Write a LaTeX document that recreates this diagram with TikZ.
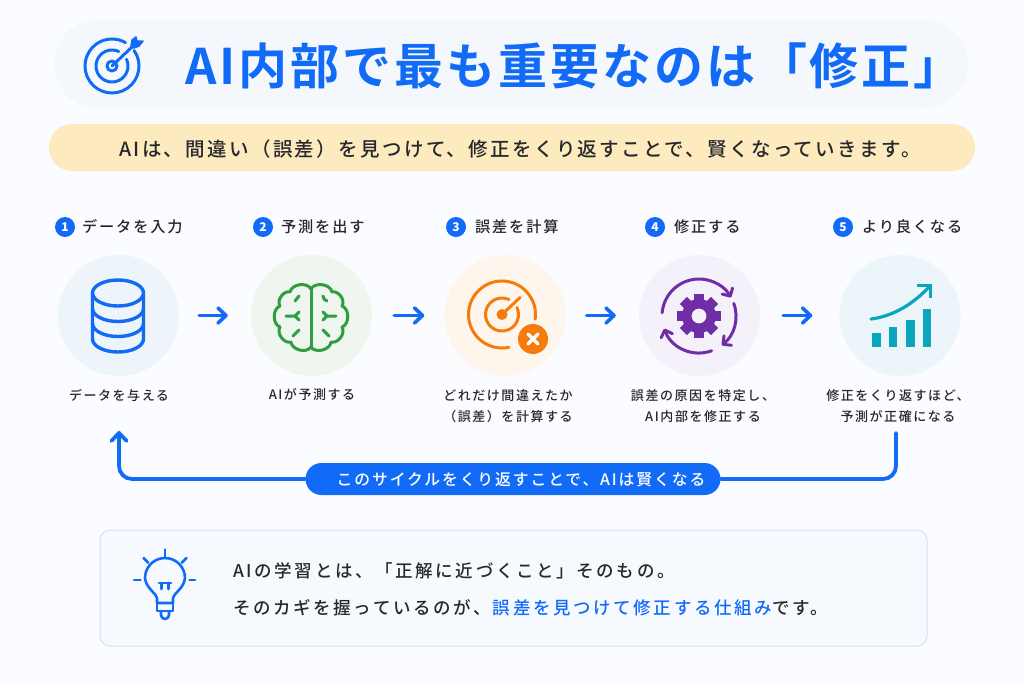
\documentclass[tikz,border=0pt]{standalone}
\usepackage{fontspec}
\usepackage{xcolor}
\usetikzlibrary{arrows.meta}
\setmainfont{Noto Sans CJK JP}
\newfontfamily\titlefont[LetterSpace=6]{Noto Sans CJK JP Bold}
\newfontfamily\jpfont[LetterSpace=12]{Noto Sans CJK JP Medium}
\newfontfamily\notefont[LetterSpace=15]{Noto Sans CJK JP Medium}
\definecolor{pagebg}{HTML}{FBFCFF}
\definecolor{titlebg}{HTML}{F4F8FC}
\definecolor{yellowbg}{HTML}{FDEBBF}
\definecolor{mainblue}{HTML}{126BF6}
\definecolor{inktext}{HTML}{26282C}
\definecolor{boxbg}{HTML}{F6FAFE}
\definecolor{boxline}{HTML}{CFE2FA}
\definecolor{brain}{HTML}{2E9E3E}
\definecolor{errorc}{HTML}{F57C0C}
\definecolor{gearc}{HTML}{6F2DA8}
\definecolor{chartc}{HTML}{0BA5BE}
\definecolor{circone}{HTML}{EEF5FA}
\definecolor{circtwo}{HTML}{EFF6F0}
\definecolor{circthree}{HTML}{FEF6EC}
\definecolor{circfour}{HTML}{F5F1FA}
\definecolor{circfive}{HTML}{ECF5FA}
\tikzset{
  stepcircle/.style={circle, minimum size=121pt, inner sep=0pt},
  stepbadge/.style={circle, fill=mainblue, minimum size=20pt, inner sep=0pt, text=white, font=\fontsize{12}{12}\selectfont\bfseries},
  steptitle/.style={anchor=west, inner sep=0pt, text=inktext, font=\fontsize{15.2}{15.2}\jpfont},
  stepdesc/.style={align=center, inner sep=0pt, text=inktext, font=\fontsize{13}{21}\jpfont},
  flow/.style={line width=3.6pt, mainblue, line cap=round, -{Straight Barb[round,length=8pt,width=15pt]}},
  loopline/.style={line width=3.8pt, mainblue, line cap=round, rounded corners=13pt},
  icon/.style={line cap=round, line join=round}
}
\begin{document}
\begin{tikzpicture}[x=1pt,y=-1pt]
\useasboundingbox (0,0) rectangle (1024,683);
\fill[pagebg] (0,0) rectangle (1024,683);
\draw node(titlebar)[fill=titlebg, rounded corners=44pt, minimum width=914pt, minimum height=88pt, inner sep=0pt] at (511,64) {};
\draw node(leadbar)[fill=yellowbg, rounded corners=23pt, minimum width=926pt, minimum height=47pt, inner sep=0pt] at (512,147.5) {};
\draw node(titletext)[anchor=west, inner sep=0pt, text=mainblue, font=\fontsize{49}{49}\titlefont] at (185,66) {AI内部で最も重要なのは「修正」};
\draw node(leadtext)[inner sep=0pt, text=inktext, font=\fontsize{19.5}{19.5}\jpfont] at (520,149) {AIは、間違い（誤差）を見つけて、修正をくり返すことで、賢くなっていきます。};

\draw node(c1)[stepcircle, fill=circone] at (118.5,315.5) {};
\draw node(c2)[stepcircle, fill=circtwo] at (311.5,315.5) {};
\draw node(c3)[stepcircle, fill=circthree] at (505,315.5) {};
\draw node(c4)[stepcircle, fill=circfour] at (699.5,315.5) {};
\draw node(c5)[stepcircle, fill=circfive] at (900,315.5) {};
\draw[flow, shorten <=20pt, shorten >=23pt] (c1) -- (c2);
\draw[flow, shorten <=22pt, shorten >=20pt] (c2) -- (c3);
\draw[flow, shorten <=21pt, shorten >=23pt] (c3) -- (c4);
\draw[flow, shorten <=23pt, shorten >=27pt] (c4) -- (c5);

\draw node(b1)[stepbadge] at (65,227) {1};
\draw node(t1)[steptitle] at (82,227) {データを入力};
\draw node(b2)[stepbadge] at (263,227) {2};
\draw node(t2)[steptitle] at (281,227) {予測を出す};
\draw node(b3)[stepbadge] at (456,227) {3};
\draw node(t3)[steptitle] at (475,227) {誤差を計算};
\draw node(b4)[stepbadge] at (655,227) {4};
\draw node(t4)[steptitle] at (674,227) {修正する};
\draw node(b5)[stepbadge] at (843,227) {5};
\draw node(t5)[steptitle] at (862,227) {より良くなる};

\draw node(d1)[stepdesc] at (119,395) {データを与える};
\draw node(d2)[stepdesc] at (312,395) {AIが予測する};
\draw node(d3)[stepdesc] at (508,406) {どれだけ間違えたか\\（誤差）を計算する};
\draw node(d4)[stepdesc] at (703,406) {誤差の原因を特定し、\\AI内部を修正する};
\draw node(d5)[stepdesc] at (898,406) {修正をくり返すほど、\\予測が正確になる};

\draw node(cyclepill)[fill=mainblue, rounded corners=16pt, minimum width=415pt, minimum height=32pt, inner sep=0pt] at (513,479) {};
\draw node(cycletext)[inner sep=0pt, text=white, font=\fontsize{15.8}{15.8}\jpfont] at (521,480) {このサイクルをくり返すことで、AIは賢くなる};
\coordinate (loopstart) at (896,433);
\coordinate (loopend) at (119,431);
\draw[loopline] (loopstart) |- (cyclepill.east);
\draw[loopline, -{Straight Barb[round,length=8pt,width=15pt]}] (cyclepill.west) -| (loopend);

\draw node(notebox)[draw=boxline, fill=boxbg, line width=1pt, rounded corners=10pt, minimum width=827pt, minimum height=116pt, inner sep=0pt] at (513.5,588) {};
\draw node(note1)[anchor=west, inner sep=0pt, text=inktext, font=\fontsize{17.5}{17.5}\notefont] at (233,571) {AIの学習とは、「正解に近づくこと」そのもの。};
\draw node(note2)[anchor=west, inner sep=0pt, text=inktext, font=\fontsize{17.5}{17.5}\notefont] at (233,608) {そのカギを握っているのが、\hspace{2pt}\textcolor{mainblue}{誤差を見つけて修正する仕組み}です。};

% title target
\begin{scope}[icon, mainblue, line width=3pt]
\draw (112,66) ++(-35:27) arc (-35:300:27);
\draw (112,66) ++(-25:16) arc (-25:295:16);
\draw (112,66) circle (5);
\draw (112,66) -- (133,46);
\draw[fill=mainblue, line width=1.5pt] (131,46) -- (132,40) -- (136,37) -- (137,41) -- (143,41) -- (139,46) -- (134,48) -- cycle;
\end{scope}

% database
\begin{scope}[icon, mainblue, line width=3.4pt]
\draw (118,293) ellipse (25.5 and 13);
\draw (92.5,293) -- (92.5,339) arc (180:0:25.5 and 13) -- (143.5,293);
\draw (92.5,308.5) arc (180:0:25.5 and 13);
\draw (92.5,323.5) arc (180:0:25.5 and 13);
\end{scope}

% brain
\begin{scope}[shift={(311,316)}, icon, brain, line width=3pt]
\draw (0,-27) -- (0,31);
\draw (0,-27) to[bend left=70] (21,-24) to[bend left=70] (31,-10) to[bend left=70] (31,11) to[bend left=70] (20,26) to[bend left=70] (0,31);
\draw (0,-27) to[bend right=70] (-21,-24) to[bend right=70] (-31,-10) to[bend right=70] (-31,11) to[bend right=70] (-20,26) to[bend right=70] (0,31);
\draw (25,0) -- (16,0) -- (12,-4) (16,0) -- (12,4);
\draw (-25,0) -- (-16,0) -- (-12,-4) (-16,0) -- (-12,4);
\draw (12,-20) -- (13,-17) -- (16,-15);
\draw (-12,-20) -- (-16,-15);
\draw (12,14) -- (18,20);
\draw (-12,14) -- (-18,20);
\end{scope}

% error target
\begin{scope}[shift={(502,314.5)}, icon, errorc, line width=3pt]
\draw (0,0) ++(8:33.5) arc (8:-282:33.5);
\fill (0,0) circle (5.5);
\draw (0,0) ++(-25:16.5) arc (-25:295:16.5);
\draw (0,0) -- (18,-17);
\fill (31,24.5) circle (15);
\draw[white, line width=3.4pt] (26,19.5) -- (36,29.5) (36,19.5) -- (26,29.5);
\end{scope}

% gear
\begin{scope}[shift={(699,316)}, gearc]
\foreach \a in {0,45,...,315} {
  \fill[rotate=\a] (-5,-22) rectangle (5,-12);
}
\fill[even odd rule] (0,0) circle (17) (0,0) circle (7.5);
\draw[icon, line width=3pt, -{Straight Barb[round,length=6pt,width=12pt]}] (0,0) ++(-175:37) arc (-175:-30:37);
\draw[icon, line width=3pt, -{Straight Barb[round,length=6pt,width=12pt]}] (0,0) ++(-20:37) arc (-20:52:37);
\draw[icon, line width=3pt, -{Straight Barb[round,length=6pt,width=12pt]}] (0,0) ++(70:37) arc (70:160:37);
\end{scope}

% chart
\begin{scope}[icon, chartc]
\fill (871.7,333.3) rectangle (880.7,347.3);
\fill (888.7,327) rectangle (897.3,347.3);
\fill (906,320) rectangle (914.7,347.3);
\fill (922.7,308.7) rectangle (931.3,347.3);
\draw[line width=3.2pt] (871,319) .. controls (895,316) and (915,302) .. (929,287);
\draw[line width=3.2pt, line join=miter, line cap=butt] (917,285.5) -- (930.5,285.5) -- (930.5,298);
\end{scope}

% bulb
\begin{scope}[icon, mainblue, line width=2.6pt]
\draw (157,603) -- (157,598) .. controls (155,592) and (146,588) .. (145,578) arc (180:360:20) .. controls (184,588) and (175,592) .. (173,598) -- (173,603) -- cycle;
\draw (157,603) -- (157,611) -- (173,611) -- (173,603);
\draw (161,611) -- (161,615) arc (180:0:4) -- (169,611);
\draw (165,549.5) -- (165,556.5);
\draw (143.5,558) -- (148.3,562.7);
\draw (186.5,558) -- (181.7,562.7);
\draw (134,580) -- (140.5,580);
\draw (189.5,580) -- (195,580);
\draw (159,583) -- (171,583);
\draw (161.7,583) -- (161.7,589);
\draw (168.3,583) -- (168.3,589);
\end{scope}
\end{tikzpicture}
\end{document}
